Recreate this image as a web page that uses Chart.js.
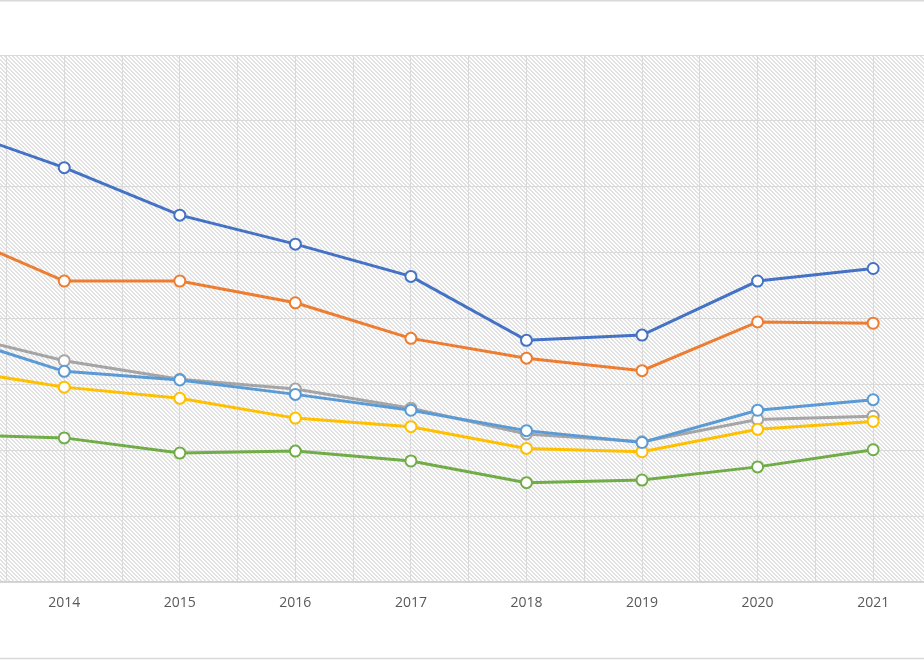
<!DOCTYPE html>
<html>
<head>
    <title>Line Chart</title>
    <script src="https://cdn.jsdelivr.net/npm/chart.js@4.4.1/dist/chart.umd.min.js"></script>
    <style>
        html, body { margin: 0; padding: 0; background: #fff; }
        #wrap { width: 924px; height: 660px; }
    </style>
</head>
<body>
    <div id="wrap"><canvas id="myChart"></canvas></div>

    <script>
        // Years (2013 sits just off the left edge, as in the picture)
        var years = [2013, 2014, 2015, 2016, 2017, 2018, 2019, 2020, 2021];

        // Series values
        var seriesBlue      = [69.1, 62.9, 55.7, 51.3, 46.4, 36.7, 37.5, 45.7, 47.6];
        var seriesOrange    = [53.3, 45.7, 45.7, 42.4, 37.0, 34.0, 32.1, 39.5, 39.3];
        var seriesGray      = [37.9, 33.6, 30.8, 29.3, 26.4, 22.5, 21.3, 24.7, 25.2];
        var seriesYellow    = [32.4, 29.6, 27.9, 24.9, 23.6, 20.3, 19.8, 23.2, 24.4];
        var seriesLightBlue = [37.6, 32.0, 30.7, 28.5, 26.1, 23.0, 21.2, 26.1, 27.7];
        var seriesGreen     = [22.4, 21.9, 19.6, 19.9, 18.4, 15.1, 15.5, 17.5, 20.1];

        // visible window of the x axis
        var xMin = 2013.444;
        var xMax = 2021.44;

        function toPoints(vals) {
            return vals.map(function (v, i) { return { x: years[i], y: v }; });
        }

        function makeSet(vals, color, order) {
            return {
                data: toPoints(vals),
                borderColor: color,
                backgroundColor: '#ffffff',
                borderWidth: 3,
                pointRadius: 5.5,
                pointBorderWidth: 2,
                pointBackgroundColor: '#ffffff',
                pointBorderColor: color,
                tension: 0,
                order: order
            };
        }

        // grid every half year
        var gridTicks = [];
        years.forEach(function (y) {
            if (y - 0.5 > xMin) gridTicks.push(y - 0.5);
            if (y > xMin) gridTicks.push(y);
        });

        // hatched plot area + top/bottom frame lines
        var hatchPlugin = {
            id: 'hatch',
            beforeDraw: function (chart) {
                var ctx = chart.ctx;
                var a = chart.chartArea;
                var tile = document.createElement('canvas');
                tile.width = 4; tile.height = 4;
                var tctx = tile.getContext('2d');
                tctx.fillStyle = '#ffffff';
                tctx.fillRect(0, 0, 4, 4);
                tctx.fillStyle = '#e2e2e2';
                for (var y = 0; y < 4; y++) {
                    tctx.fillRect(y % 4, y, 1, 1);
                    tctx.fillRect((y + 1) % 4, y, 1, 1);
                }
                ctx.save();
                ctx.fillStyle = ctx.createPattern(tile, 'repeat');
                ctx.fillRect(a.left, a.top, a.right - a.left, a.bottom - a.top);
                ctx.restore();
            },
            afterDraw: function (chart) {
                var ctx = chart.ctx;
                ctx.save();
                ctx.strokeStyle = '#d9d9d9';
                ctx.lineWidth = 1.5;
                ctx.beginPath();
                ctx.moveTo(0, 0.75); ctx.lineTo(chart.width, 0.75);
                ctx.moveTo(0, 658.5); ctx.lineTo(chart.width, 658.5);
                ctx.stroke();
                ctx.restore();
            }
        };

        var config = {
            type: 'line',
            data: {
                datasets: [
                    makeSet(seriesBlue, '#4472C4', 6),
                    makeSet(seriesOrange, '#ED7D31', 5),
                    makeSet(seriesGray, '#A5A5A5', 4),
                    makeSet(seriesYellow, '#FFC000', 3),
                    makeSet(seriesLightBlue, '#5B9BD5', 2),
                    makeSet(seriesGreen, '#70AD47', 1)
                ]
            },
            options: {
                responsive: true,
                maintainAspectRatio: false,
                animation: false,
                layout: {
                    autoPadding: false,
                    padding: { top: 55, left: 0, right: 0, bottom: 37 }
                },
                plugins: {
                    legend: { display: false },
                    tooltip: { enabled: false }
                },
                scales: {
                    x: {
                        type: 'linear',
                        min: xMin,
                        max: xMax,
                        afterBuildTicks: function (scale) {
                            scale.ticks = gridTicks.map(function (v) { return { value: v }; });
                        },
                        afterFit: function (scale) {
                            scale.paddingLeft = 0;
                            scale.paddingRight = 0;
                        },
                        grid: { color: '#dadada', lineWidth: 1, drawTicks: false },
                        border: { color: '#d0d0d0', width: 1.5 },
                        ticks: {
                            autoSkip: false,
                            maxRotation: 0,
                            padding: 12,
                            color: '#595959',
                            font: { family: 'Open Sans', size: 14 },
                            callback: function (v) {
                                return Number.isInteger(v) ? String(v) : '';
                            }
                        }
                    },
                    y: {
                        min: 0,
                        max: 80,
                        afterFit: function (scale) {
                            scale.width = 0;
                        },
                        grid: { color: '#dadada', lineWidth: 1, drawTicks: false },
                        border: { display: false },
                        ticks: { display: false, stepSize: 10 }
                    }
                }
            },
            plugins: [hatchPlugin]
        };

        var ctx = document.getElementById('myChart').getContext('2d');
        var chart = new Chart(ctx, config);
    </script>
</body>
</html>
